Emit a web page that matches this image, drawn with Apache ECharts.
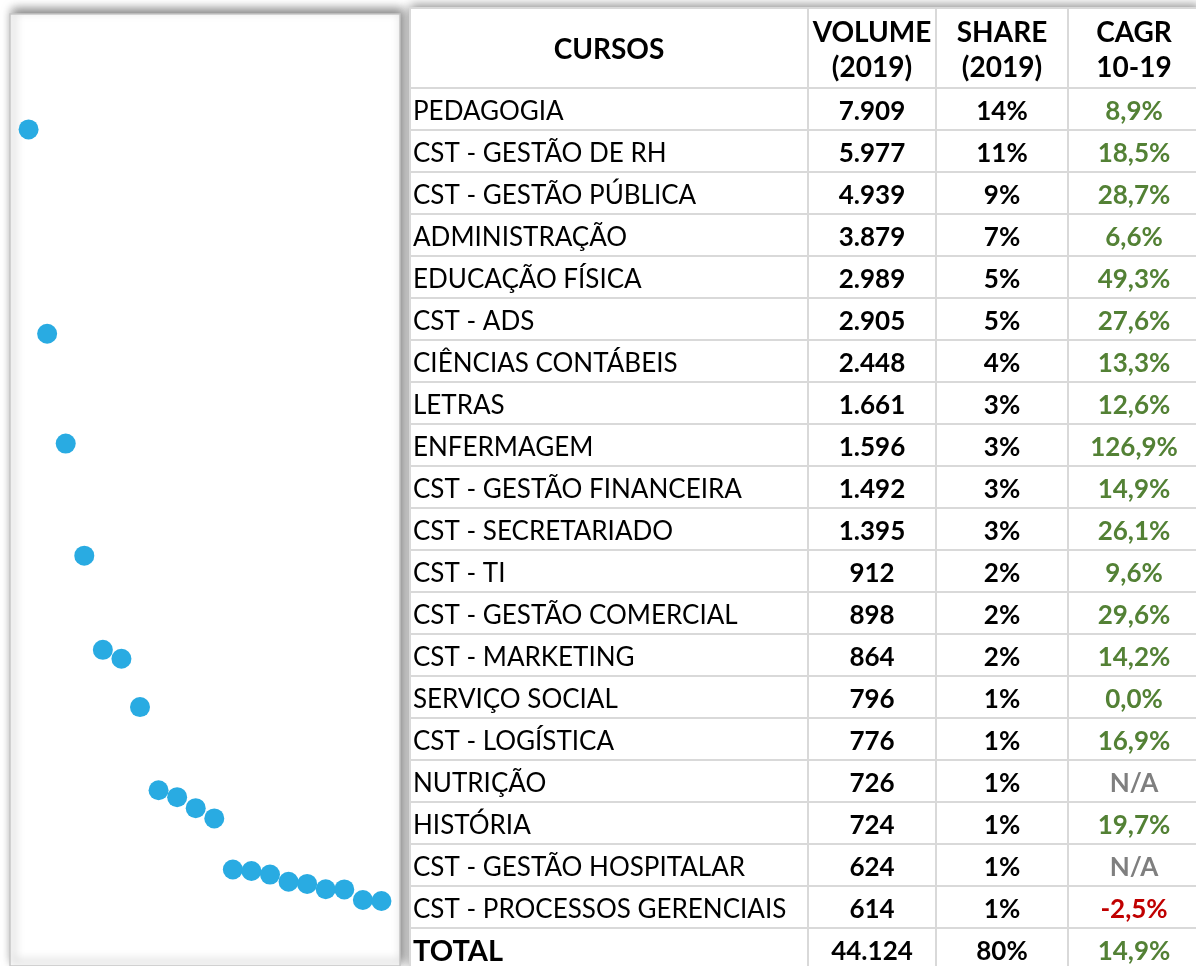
<!DOCTYPE html>
<html>
  <head>
    <meta charset="utf-8" />
    <title>Cursos 2019</title>
    <script src="https://cdn.jsdelivr.net/npm/echarts@6/dist/echarts.min.js"></script>
  </head>
  <body>
    <style>
        html,
        body {
          margin: 0;
          overflow: hidden;
          background: #fff;
        }
        #main {
          width: 1196px;
          height: 966px;
        }
    </style>
    <div id="main"></div>
    <script type="text/javascript">
      // table data
      var headers = ['CURSOS', 'VOLUME\n(2019)', 'SHARE\n(2019)', 'CAGR\n10-19'];
      var cursos = ['PEDAGOGIA', 'CST - GESTÃO DE RH', 'CST - GESTÃO PÚBLICA', 'ADMINISTRAÇÃO',
        'EDUCAÇÃO FÍSICA', 'CST - ADS', 'CIÊNCIAS CONTÁBEIS', 'LETRAS', 'ENFERMAGEM',
        'CST - GESTÃO FINANCEIRA', 'CST - SECRETARIADO', 'CST - TI', 'CST - GESTÃO COMERCIAL',
        'CST - MARKETING', 'SERVIÇO SOCIAL', 'CST - LOGÍSTICA', 'NUTRIÇÃO', 'HISTÓRIA',
        'CST - GESTÃO HOSPITALAR', 'CST - PROCESSOS GERENCIAIS'];
      var volume = [7909, 5977, 4939, 3879, 2989, 2905, 2448, 1661, 1596, 1492,
        1395, 912, 898, 864, 796, 776, 726, 724, 624, 614];
      var share = ['14%', '11%', '9%', '7%', '5%', '5%', '4%', '3%', '3%', '3%',
        '3%', '2%', '2%', '2%', '1%', '1%', '1%', '1%', '1%', '1%'];
      var cagr = [8.9, 18.5, 28.7, 6.6, 49.3, 27.6, 13.3, 12.6, 126.9, 14.9,
        26.1, 9.6, 29.6, 14.2, 0.0, 16.9, null, 19.7, null, -2.5];
      var totalLabel = 'TOTAL';
      var totalVolume = 44124;
      var totalShare = '80%';
      var totalCagr = 14.9;

      var myChart = echarts.init(document.getElementById('main'));

      function fmtVolume(v) {
          return String(v).replace(/\B(?=(\d{3})+(?!\d))/g, '.');
      }
      function fmtCagr(v) {
          if (v === null) return 'N/A';
          return v.toFixed(1).replace('.', ',') + '%';
      }
      function cagrColor(v) {
          if (v === null) return '#7f7f7f';
          return v < 0 ? '#c00000' : '#538135';
      }

      // rows of the table: 20 courses + total
      var rowNames = cursos.concat([totalLabel]);
      var rowVolume = volume.map(fmtVolume).concat([fmtVolume(totalVolume)]);
      var rowShare = share.concat([totalShare]);
      var rowCagr = cagr.concat([totalCagr]);

      // layout of the table (pixels)
      var colEdges = [0, 398, 526, 658, 790];
      var tableLeft = 410;
      var tableTop = 88;
      var rowHeight = 42;
      var headerHeight = 80;
      var lineColor = '#d9d9d9';
      var font = 'Lato, "Open Sans", sans-serif';

      function cellText(text, x, y, align, weight, size, color) {
          return {
              type: 'text',
              style: {
                  text: text,
                  x: x,
                  y: y,
                  align: align,
                  textAlign: align,
                  verticalAlign: 'middle',
                  textVerticalAlign: 'middle',
                  font: weight + ' ' + size + 'px ' + font,
                  lineHeight: 35,
                  fill: color || '#000'
              }
          };
      }

      function renderRow(params, api) {
          var row = api.value(1);
          var band = api.size([0, 1])[1];
          var cy = api.coord([0, row])[1];
          var top = cy - band / 2;
          var xs = colEdges.map(function (e) { return api.coord([e, row])[0]; });
          var children = [];

          if (row === 0) {
              // table background with its shadow, then header cells
              children.push({
                  type: 'rect',
                  shape: { x: xs[0], y: top - headerHeight, width: xs[4] - xs[0], height: headerHeight + band * rowNames.length },
                  style: { fill: '#fff', shadowBlur: 10, shadowOffsetY: -3, shadowColor: 'rgba(0,0,0,0.45)' }
              });
              for (var h = 0; h < 4; h++) {
                  children.push({
                      type: 'rect',
                      shape: { x: xs[h], y: top - headerHeight, width: xs[h + 1] - xs[h], height: headerHeight },
                      style: { fill: '#fff', stroke: lineColor, lineWidth: 2 }
                  });
                  children.push(cellText(headers[h], (xs[h] + xs[h + 1]) / 2, top - headerHeight / 2 + 2, 'center', 'bold', 28));
              }
          }
          for (var k = 0; k < 4; k++) {
              children.push({
                  type: 'rect',
                  shape: { x: xs[k], y: top, width: xs[k + 1] - xs[k], height: band },
                  style: { fill: '#fff', stroke: lineColor, lineWidth: 2 }
              });
          }
          var isTotal = row === rowNames.length - 1;
          children.push(cellText(rowNames[row], xs[0] + 3, cy + 3, 'left',
              isTotal ? 'bold' : 'normal', isTotal ? 29 : 26));
          children.push(cellText(rowVolume[row], (xs[1] + xs[2]) / 2, cy + 3, 'center', 'bold', 26));
          children.push(cellText(rowShare[row], (xs[2] + xs[3]) / 2, cy + 3, 'center', 'bold', 26));
          children.push(cellText(fmtCagr(rowCagr[row]), (xs[3] + xs[4]) / 2, cy + 3, 'center', 'bold', 26, cagrColor(rowCagr[row])));
          return { type: 'group', children: children };
      }

      var option = {
          animation: false,
          grid: [{
              // scatter panel
              left: 10,
              top: 14,
              width: 390,
              bottom: 0,
              show: true,
              backgroundColor: '#fff',
              borderColor: '#c6c6c6',
              borderWidth: 1.5,
              shadowBlur: 10,
              shadowOffsetX: 3,
              shadowOffsetY: -4,
              shadowColor: 'rgba(0,0,0,0.5)'
          }, {
              // table body, runs off the bottom of the page
              left: tableLeft,
              top: tableTop,
              right: 0,
              bottom: 0
          }],
          xAxis: [{
              gridIndex: 0,
              type: 'value',
              min: 0,
              max: 21,
              show: false
          }, {
              gridIndex: 1,
              type: 'value',
              min: 0,
              max: 1196 - tableLeft,
              show: false
          }],
          yAxis: [{
              gridIndex: 0,
              type: 'value',
              min: 0,
              max: 9000,
              show: false
          }, {
              gridIndex: 1,
              type: 'value',
              inverse: true,
              min: -0.5,
              max: -0.5 + (966 - tableTop) / rowHeight,
              show: false
          }],
          series: [{
              type: 'scatter',
              xAxisIndex: 0,
              yAxisIndex: 0,
              symbolSize: 20,
              itemStyle: { color: '#29abe2', opacity: 1 },
              data: volume.map(function (v, i) { return [i + 1, v]; }),
              z: 3
          }, {
              type: 'custom',
              xAxisIndex: 1,
              yAxisIndex: 1,
              clip: false,
              silent: true,
              renderItem: renderRow,
              data: rowNames.map(function (n, i) { return [0, i]; }),
              z: 2
          }]
      };

      myChart.setOption(option);
    </script>
  </body>
</html>
